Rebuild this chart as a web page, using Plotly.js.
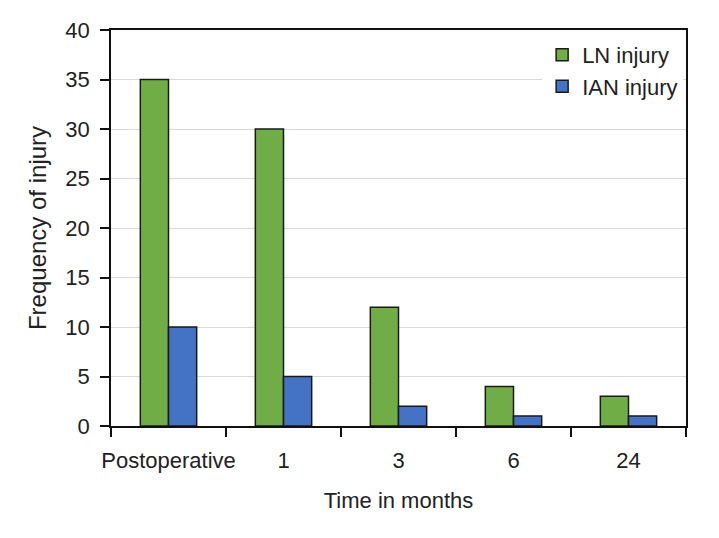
<!DOCTYPE html>
<html>
<head>
<meta charset="utf-8">
<script src="https://cdn.plot.ly/plotly-3.0.1.min.js"></script>
<style>
  html, body { margin: 0; padding: 0; background: #fff; }
  #chart { width: 719px; height: 538px; }
</style>
</head>
<body>
<div id="chart"></div>
<script>
// Time points on the x axis
const timePoints = ['Postoperative', '1', '3', '6', '24'];

// Frequency of injury at each time point
const lnInjury  = [35, 30, 12, 4, 3];
const ianInjury = [10, 5, 2, 1, 1];

const fontFamily = '"Liberation Sans", Arial, sans-serif';

const traces = [
  {
    name: 'LN injury',
    x: timePoints, y: lnInjury,
    type: 'bar',
    marker: { color: '#70AD47', line: { color: '#1a1a1a', width: 1.5 } },
  },
  {
    name: 'IAN injury',
    x: timePoints, y: ianInjury,
    type: 'bar',
    marker: { color: '#4472C4', line: { color: '#1a1a1a', width: 1.5 } },
  },
];

const layout = {
  width: 719,
  height: 538,
  barmode: 'group',
  bargap: 0.51,
  bargroupgap: 0,
  margin: { t: 30, r: 33, b: 112, l: 111 },
  paper_bgcolor: '#fff',
  plot_bgcolor: '#fff',
  font: { family: fontFamily, size: 22, color: '#222' },
  showlegend: true,
  legend: {
    x: 0.995, y: 0.99, xanchor: 'right', yanchor: 'top',
    bgcolor: '#fff',
    font: { size: 22, color: '#222' },
    tracegroupgap: 0,
  },
  xaxis: {
    title: { text: 'Time in months', standoff: 20, font: { size: 22 } },
    type: 'category',
    tickangle: 0,
    showline: true, linecolor: '#111', linewidth: 1.5, mirror: true,
    ticks: 'outside', tickson: 'boundaries', ticklen: 9, tickcolor: '#111', tickwidth: 1.5,
    ticklabelstandoff: 14,
    showgrid: false,
    tickfont: { size: 22 },
  },
  yaxis: {
    title: { text: 'Frequency of injury', standoff: 12, font: { size: 24 } },
    range: [0, 40], dtick: 5,
    showline: true, linecolor: '#111', linewidth: 1.5, mirror: true,
    ticks: 'outside', ticklen: 9, tickcolor: '#111', tickwidth: 1.5,
    ticklabelstandoff: 6,
    gridcolor: '#d9d9d9', gridwidth: 1,
    zeroline: false,
    tickfont: { size: 22 },
  },
};

Plotly.newPlot('chart', traces, layout, { displayModeBar: false, responsive: false });
</script>
</body>
</html>
